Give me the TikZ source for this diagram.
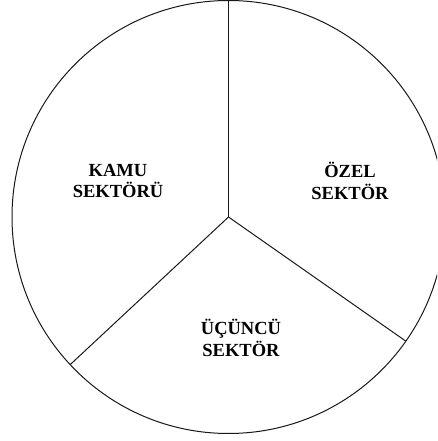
\documentclass[tikz,border=0pt]{standalone}
\usepackage{fontspec}
\setmainfont{Liberation Serif}
\usetikzlibrary{calc}
\tikzset{
  sektor/.style={font=\bfseries\fontsize{18.5}{21.5}\selectfont, align=center, inner sep=0pt},
  kenar/.style={line width=1pt, draw=black!90}
}

\begin{document}
\begin{tikzpicture}[x=1pt, y=1pt]
  \useasboundingbox (0,0) rectangle (437,441);
  \clip (0,0) rectangle (437,441);
  \coordinate (merkez) at (228.5,224);
  \draw[kenar] (merkez) circle (216.5);
  \coordinate (ust) at ($(merkez)+(90:216.5)$);
  \coordinate (solalt) at ($(merkez)+(223:216.5)$);
  \coordinate (sagalt) at ($(merkez)+(325:216.5)$);
  \draw[kenar] (merkez) -- (ust);
  \draw[kenar] (merkez) -- (solalt);
  \draw[kenar] (merkez) -- (sagalt);
  \node[sektor] (kamu) at (118,260) {KAMU\\SEKTÖRÜ};
  \node[sektor] (ozel) at (350,260) {ÖZEL\\SEKTÖR};
  \node[sektor] (ucuncu) at (241,103) {ÜÇÜNCÜ\\SEKTÖR};
\end{tikzpicture}
\end{document}
